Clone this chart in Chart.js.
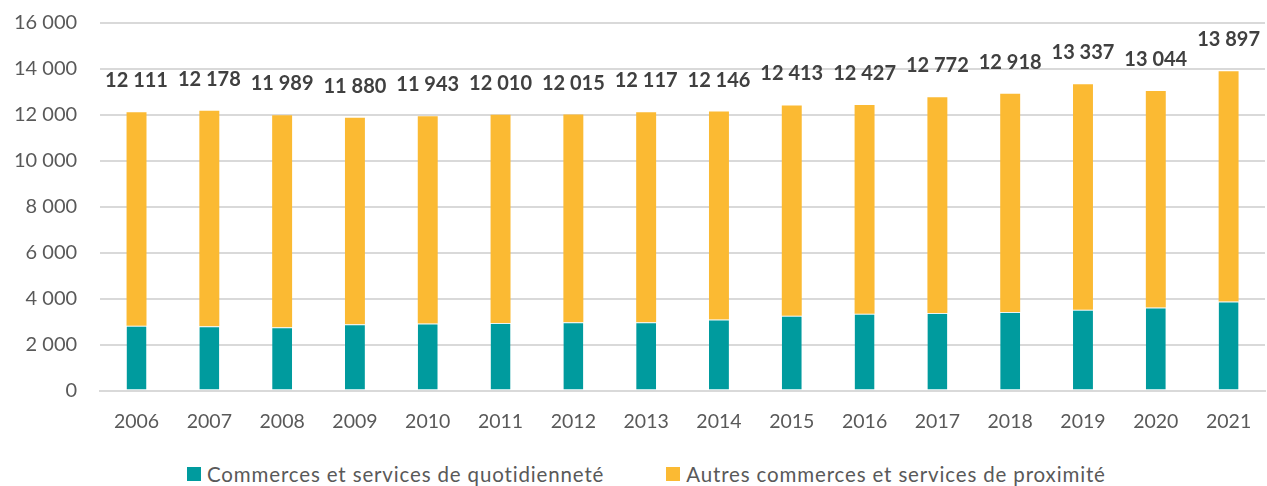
<!DOCTYPE html>
<html lang="fr">
<head>
    <meta charset="UTF-8">
    <title>Commerces et services</title>
    <script src="https://cdn.jsdelivr.net/npm/chart.js"></script>
    <style>
        html, body { margin: 0; padding: 0; background: #fff; }
        #wrap { width: 1267px; height: 486px; position: relative; overflow: hidden; }
        #chartBox { width: 1267px; height: 462px; position: absolute; top: -12px; left: 0; }
        /* Légende HTML sous le graphique */
        .legende {
            position: absolute;
            top: 462px;
            left: 187px;
            display: flex;
            align-items: center;
            font-family: Lato, sans-serif;
            font-size: 20.5px;
            letter-spacing: 0.85px;
            color: #595959;
            line-height: 24px;
        }
        .legende .item { display: flex; align-items: center; }
        .legende .item + .item { margin-left: 62px; }
        .legende .carre { width: 14px; height: 14px; margin-right: 6px; }
    </style>
</head>
<body>
    <div id="wrap">
        <div id="chartBox">
            <canvas id="myChart"></canvas>
        </div>
        <div class="legende" id="legende"></div>
    </div>
    <script>
        // Années
        const annees = ['2006', '2007', '2008', '2009', '2010', '2011', '2012', '2013',
            '2014', '2015', '2016', '2017', '2018', '2019', '2020', '2021'];
        // Commerces et services de quotidienneté
        const quotidiennete = [2820, 2800, 2760, 2890, 2920, 2940, 2980, 2980,
            3090, 3260, 3340, 3380, 3420, 3520, 3620, 3880];
        // Total (quotidienneté + autres), affiché au-dessus des barres
        const totaux = [12111, 12178, 11989, 11880, 11943, 12010, 12015, 12117,
            12146, 12413, 12427, 12772, 12918, 13337, 13044, 13897];
        // Autres commerces = total - quotidienneté
        const autres = totaux.map((t, i) => t - quotidiennete[i]);

        const couleurs = ['#009B9E', '#FBBA33'];
        const noms = ['Commerces et services de quotidienneté', 'Autres commerces et services de proximité'];

        const formatNombre = v => String(v).replace(/\B(?=(\d{3})+(?!\d))/g, ' ');

        // Plugin : étiquette du total au-dessus de chaque pile
        const totalLabels = {
            id: 'totalLabels',
            afterDatasetsDraw(chart) {
                const ctx = chart.ctx;
                const meta = chart.getDatasetMeta(1);
                ctx.save();
                ctx.font = 'bold 20px Lato, sans-serif';
                ctx.fillStyle = '#404040';
                ctx.textAlign = 'center';
                ctx.textBaseline = 'alphabetic';
                meta.data.forEach((bar, i) => {
                    ctx.fillText(formatNombre(totaux[i]), bar.x, bar.y - 25);
                });
                ctx.restore();
            }
        };

        const ctx = document.getElementById('myChart').getContext('2d');
        const myChart = new Chart(ctx, {
            type: 'bar',
            data: {
                labels: annees,
                datasets: [
                    {
                        label: noms[0],
                        data: quotidiennete,
                        backgroundColor: couleurs[0],
                        borderColor: '#e8f4f4',
                        borderWidth: { top: 1, left: 0, right: 0, bottom: 0 },
                        borderSkipped: false,
                        barPercentage: 0.274,
                        categoryPercentage: 1.0
                    },
                    {
                        label: noms[1],
                        data: autres,
                        backgroundColor: couleurs[1],
                        barPercentage: 0.274,
                        categoryPercentage: 1.0
                    }
                ]
            },
            options: {
                responsive: true,
                maintainAspectRatio: false,
                animation: false,
                layout: { padding: { left: -9, right: 2, top: 0, bottom: 6 } },
                scales: {
                    x: {
                        stacked: true,
                        grid: { display: false },
                        border: { color: '#d9d9d9', width: 2 },
                        ticks: {
                            color: '#595959',
                            font: { family: 'Lato, sans-serif', size: 19.5 },
                            padding: 11
                        }
                    },
                    y: {
                        stacked: true,
                        min: 0,
                        max: 16000,
                        border: { display: false },
                        grid: { color: '#d9d9d9', lineWidth: 2, drawTicks: false },
                        ticks: {
                            stepSize: 2000,
                            color: '#595959',
                            font: { family: 'Lato, sans-serif', size: 20 },
                            padding: 23,
                            callback: v => formatNombre(v)
                        }
                    }
                },
                plugins: {
                    legend: { display: false },
                    tooltip: { enabled: false }
                }
            },
            plugins: [totalLabels]
        });

        // Construction de la légende
        const legende = document.getElementById('legende');
        noms.forEach((nom, i) => {
            const item = document.createElement('div');
            item.className = 'item';
            item.innerHTML = `<span class="carre" style="background:${couleurs[i]}"></span><span>${nom}</span>`;
            legende.appendChild(item);
        });
    </script>
</body>
</html>
